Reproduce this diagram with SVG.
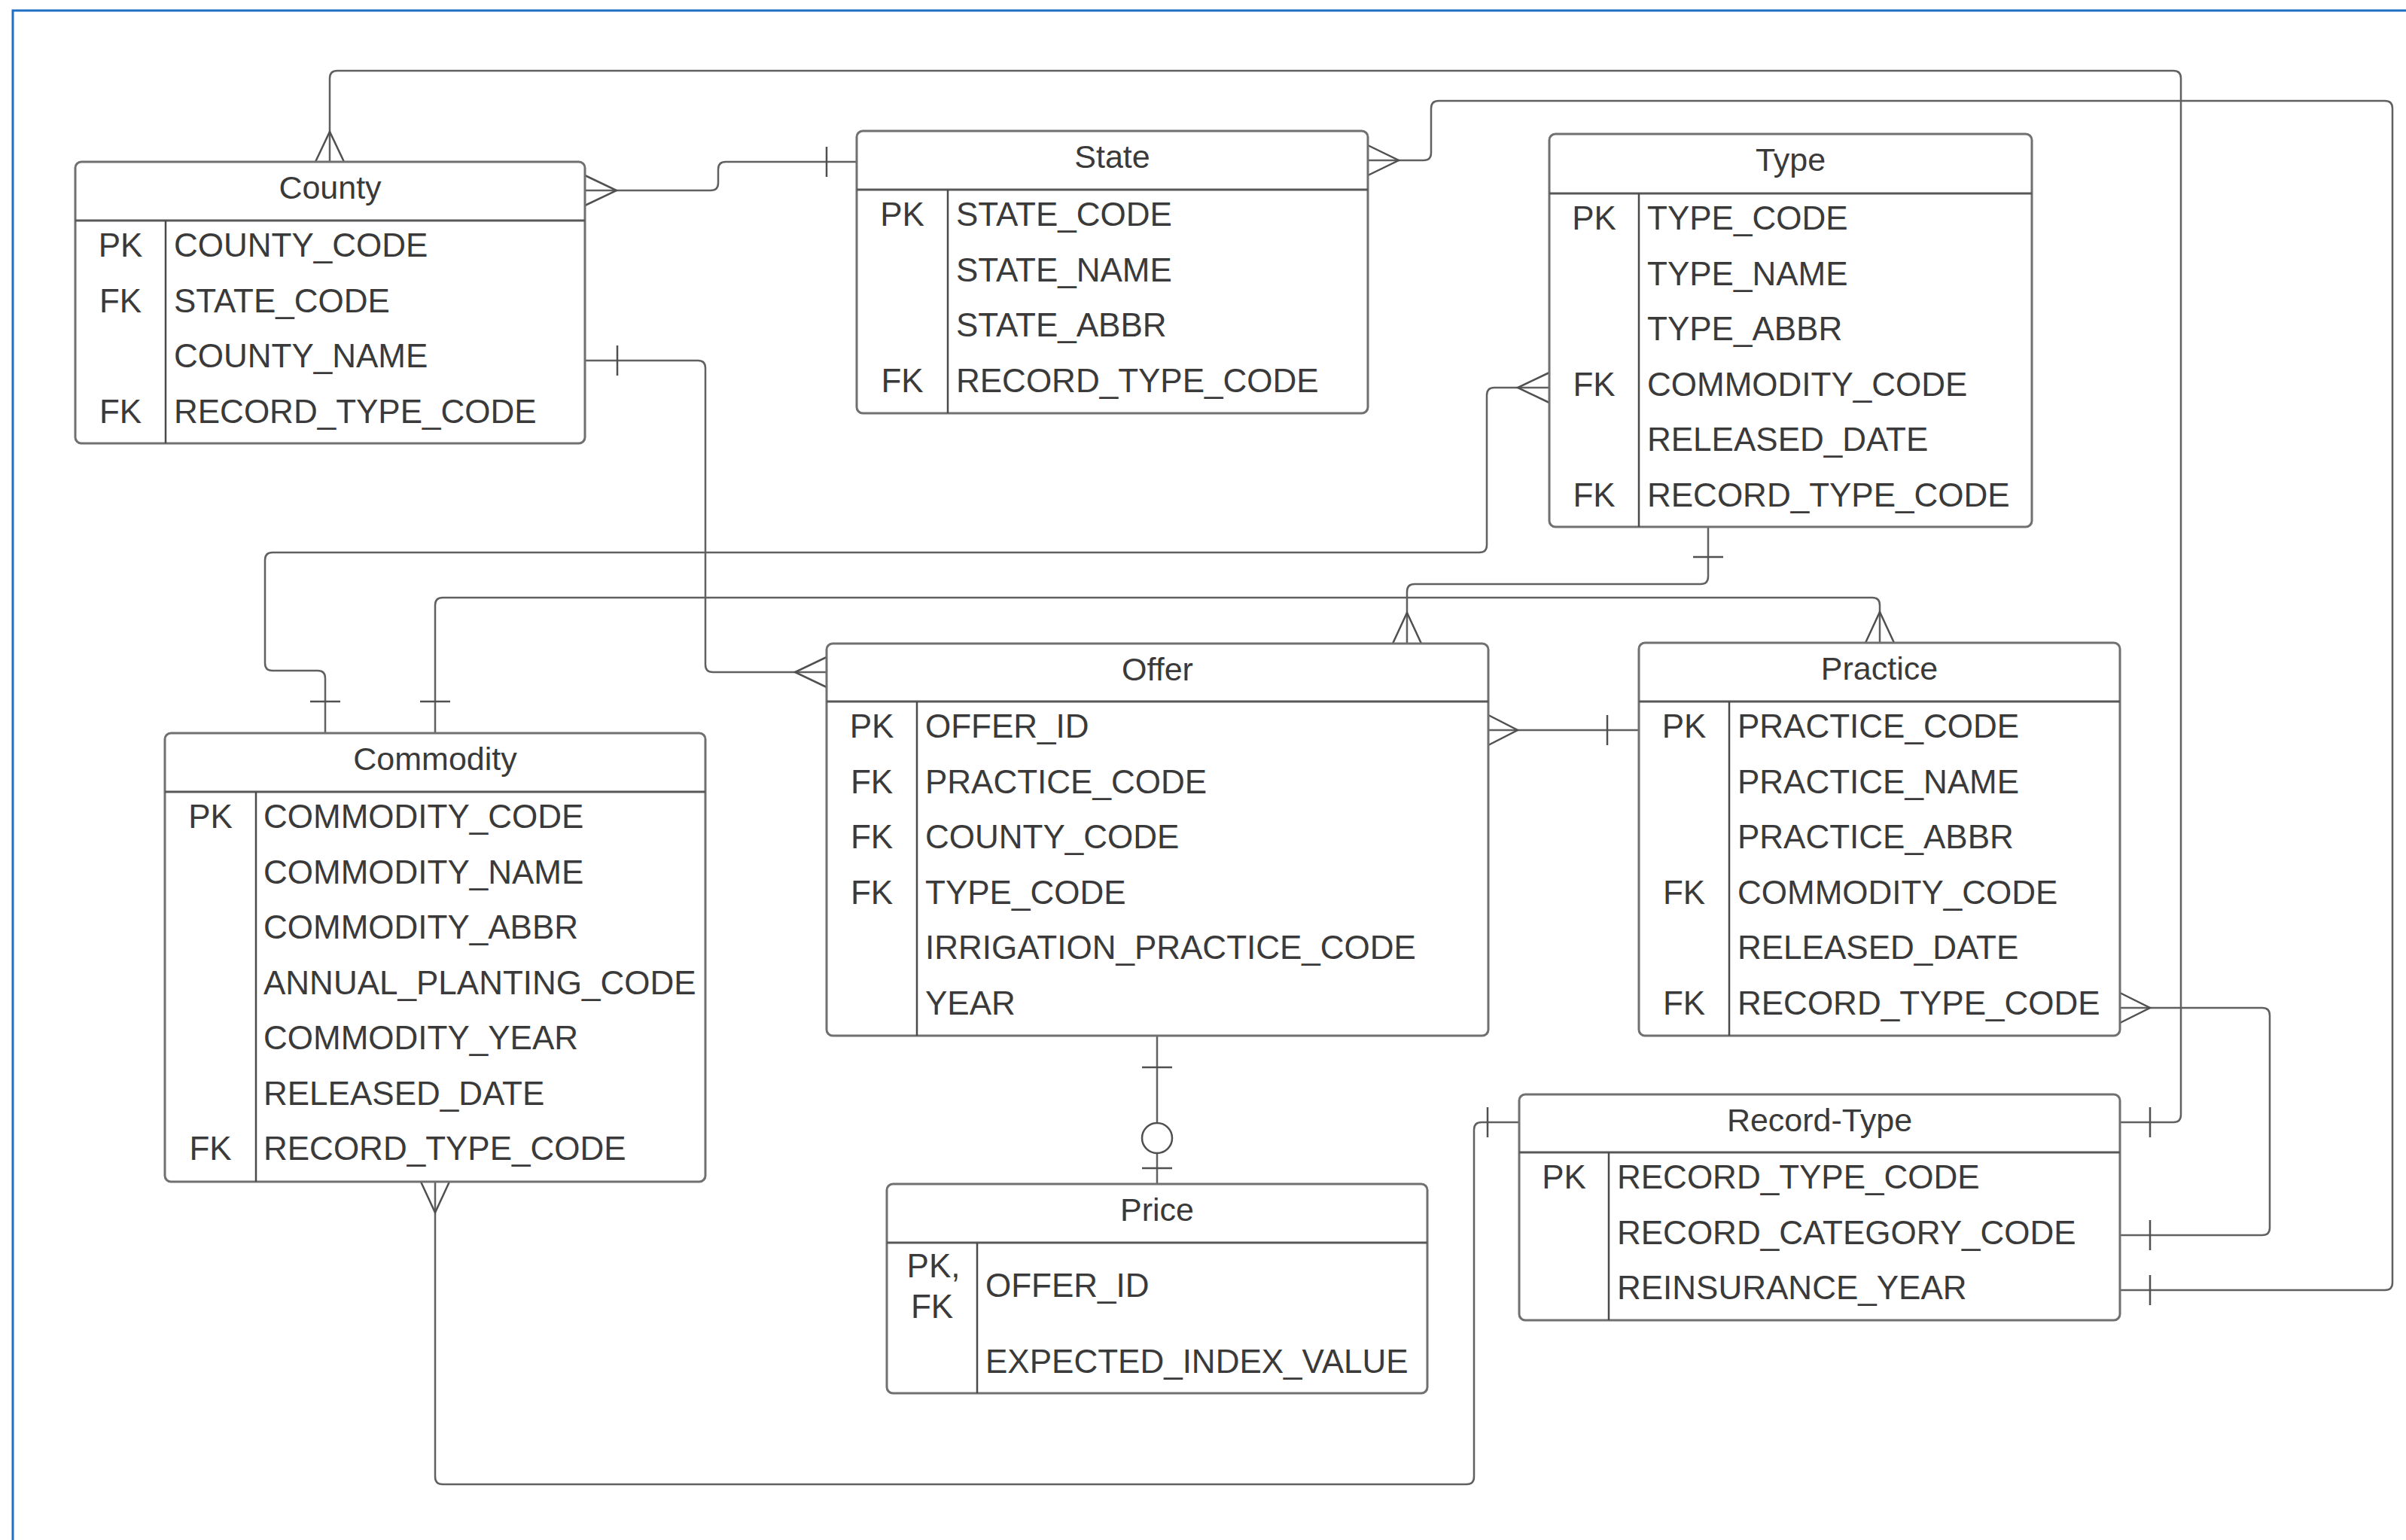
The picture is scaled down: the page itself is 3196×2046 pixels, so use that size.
<svg xmlns="http://www.w3.org/2000/svg" width="3196" height="2046" viewBox="0 0 3196 2046">
<style>
.bg{fill:#ffffff}
.frame{fill:none;stroke:#1f6fc5;stroke-width:3}
.box{fill:#ffffff;stroke:#707070;stroke-width:3}
.sep{stroke:#585858;stroke-width:3}
.div{stroke:#4a4a4a;stroke-width:2.5}
.t{font-family:"Liberation Sans",Arial,sans-serif;font-size:43px;fill:#3a3a3a;text-anchor:middle}
.k{font-family:"Liberation Sans",Arial,sans-serif;font-size:44px;fill:#3a3a3a;text-anchor:middle}
.f{font-family:"Liberation Sans",Arial,sans-serif;font-size:44px;fill:#3a3a3a}
.ln{fill:none;stroke:#606060;stroke-width:2.5;stroke-linejoin:round}
.end{fill:none;stroke:#505050;stroke-width:2.5}
.circ{fill:#ffffff;stroke:#505050;stroke-width:2.5}
</style>
<rect class="bg" x="0" y="0" width="3196" height="2046"/>
<path class="frame" d="M17,2046 V14 H3196"/>

<g id="connectors">
  <!-- County top (many) to Record-Type header right (one) -->
  <path class="ln" d="M438,215 V104 Q438,94 448,94 H2887 Q2897,94 2897,104 V1481 Q2897,1491 2887,1491 H2816"/>
  <path class="end" d="M419,215 L438,175 L457,215 M2856,1471 V1511"/>
  <!-- County header right (many) to State header left (one) -->
  <path class="ln" d="M777,253 H944 Q954,253 954,243 V225 Q954,215 964,215 H1138"/>
  <path class="end" d="M777,233 L819,253 L777,273 M1098,195 V235"/>
  <!-- County COUNTY_NAME (one) to Offer header left (many) -->
  <path class="ln" d="M777,479 H927 Q937,479 937,489 V883 Q937,893 947,893 H1098"/>
  <path class="end" d="M820,459 V499 M1098,873 L1056,893 L1098,913"/>
  <!-- State header right (many) to Record-Type REINSURANCE_YEAR (one) -->
  <path class="ln" d="M1817,213 H1891 Q1901,213 1901,203 V144 Q1901,134 1911,134 H3168 Q3178,134 3178,144 V1704 Q3178,1714 3168,1714 H2816"/>
  <path class="end" d="M1817,193 L1858,213 L1817,233 M2856,1694 V1734"/>
  <!-- Type COMMODITY_CODE (many) to Commodity top (one) -->
  <path class="ln" d="M2058,515 H1985 Q1975,515 1975,525 V724 Q1975,734 1965,734 H362 Q352,734 352,744 V881 Q352,891 362,891 H422 Q432,891 432,901 V974"/>
  <path class="end" d="M2058,495 L2016,515 L2058,535 M412,932 H452"/>
  <!-- Type bottom (one) to Offer top (many) -->
  <path class="ln" d="M2269,700 V766 Q2269,776 2259,776 H1879 Q1869,776 1869,786 V855"/>
  <path class="end" d="M2249,740 H2289 M1850,855 L1869,814 L1888,855"/>
  <!-- Commodity top (one) to Practice top (many) -->
  <path class="ln" d="M578,974 V804 Q578,794 588,794 H2487 Q2497,794 2497,804 V854"/>
  <path class="end" d="M558,932 H598 M2478,854 L2497,813 L2516,854"/>
  <!-- Offer OFFER_ID (many) to Practice PRACTICE_CODE (one) -->
  <path class="ln" d="M1977,970 H2177"/>
  <path class="end" d="M1977,950 L2016,970 L1977,990 M2135,950 V990"/>
  <!-- Offer bottom (one) to Price top (zero or one) -->
  <path class="ln" d="M1537,1376 V1573"/>
  <path class="end" d="M1517,1418 H1557 M1517,1552 H1557"/>
  <circle class="circ" cx="1537" cy="1512" r="20"/>
  <!-- Practice RECORD_TYPE_CODE (many) to Record-Type RECORD_CATEGORY_CODE (one) -->
  <path class="ln" d="M2816,1339 H3005 Q3015,1339 3015,1349 V1631 Q3015,1641 3005,1641 H2816"/>
  <path class="end" d="M2816,1319 L2856,1339 L2816,1359 M2856,1621 V1661"/>
  <!-- Commodity bottom (many) to Record-Type header left (one) -->
  <path class="ln" d="M578,1570 V1962 Q578,1972 588,1972 H1948 Q1958,1972 1958,1962 V1501 Q1958,1491 1968,1491 H2018"/>
  <path class="end" d="M559,1570 L578,1611 L597,1570 M1976,1471 V1511"/>
</g>

<g id="county">
  <rect class="box" x="100" y="215" width="677" height="374" rx="8"/>
  <line class="sep" x1="100" y1="293" x2="777" y2="293"/>
  <line class="div" x1="220" y1="293" x2="220" y2="589"/>
  <text class="t" x="438.5" y="264">County</text>
  <text class="k" x="160" y="341">PK</text><text class="f" x="231" y="341">COUNTY_CODE</text>
  <text class="k" x="160" y="414.5">FK</text><text class="f" x="231" y="414.5">STATE_CODE</text>
  <text class="f" x="231" y="488">COUNTY_NAME</text>
  <text class="k" x="160" y="561.5">FK</text><text class="f" x="231" y="561.5">RECORD_TYPE_CODE</text>
</g>

<g id="state">
  <rect class="box" x="1138" y="174" width="679" height="375" rx="8"/>
  <line class="sep" x1="1138" y1="252" x2="1817" y2="252"/>
  <line class="div" x1="1259" y1="252" x2="1259" y2="549"/>
  <text class="t" x="1477.5" y="223">State</text>
  <text class="k" x="1198.5" y="300">PK</text><text class="f" x="1270" y="300">STATE_CODE</text>
  <text class="f" x="1270" y="373.5">STATE_NAME</text>
  <text class="f" x="1270" y="447">STATE_ABBR</text>
  <text class="k" x="1198.5" y="520.5">FK</text><text class="f" x="1270" y="520.5">RECORD_TYPE_CODE</text>
</g>

<g id="type">
  <rect class="box" x="2058" y="178" width="641" height="522" rx="8"/>
  <line class="sep" x1="2058" y1="257" x2="2699" y2="257"/>
  <line class="div" x1="2177" y1="257" x2="2177" y2="700"/>
  <text class="t" x="2378.5" y="227">Type</text>
  <text class="k" x="2117.5" y="305">PK</text><text class="f" x="2188" y="305">TYPE_CODE</text>
  <text class="f" x="2188" y="378.5">TYPE_NAME</text>
  <text class="f" x="2188" y="452">TYPE_ABBR</text>
  <text class="k" x="2117.5" y="525.5">FK</text><text class="f" x="2188" y="525.5">COMMODITY_CODE</text>
  <text class="f" x="2188" y="599">RELEASED_DATE</text>
  <text class="k" x="2117.5" y="672.5">FK</text><text class="f" x="2188" y="672.5">RECORD_TYPE_CODE</text>
</g>

<g id="commodity">
  <rect class="box" x="219" y="974" width="718" height="596" rx="8"/>
  <line class="sep" x1="219" y1="1052" x2="937" y2="1052"/>
  <line class="div" x1="340" y1="1052" x2="340" y2="1570"/>
  <text class="t" x="578" y="1023">Commodity</text>
  <text class="k" x="279.5" y="1100">PK</text><text class="f" x="350" y="1100">COMMODITY_CODE</text>
  <text class="f" x="350" y="1173.5">COMMODITY_NAME</text>
  <text class="f" x="350" y="1247">COMMODITY_ABBR</text>
  <text class="f" x="350" y="1320.5">ANNUAL_PLANTING_CODE</text>
  <text class="f" x="350" y="1394">COMMODITY_YEAR</text>
  <text class="f" x="350" y="1467.5">RELEASED_DATE</text>
  <text class="k" x="279.5" y="1541">FK</text><text class="f" x="350" y="1541">RECORD_TYPE_CODE</text>
</g>

<g id="offer">
  <rect class="box" x="1098" y="855" width="879" height="521" rx="8"/>
  <line class="sep" x1="1098" y1="932" x2="1977" y2="932"/>
  <line class="div" x1="1218" y1="932" x2="1218" y2="1376"/>
  <text class="t" x="1537.5" y="904">Offer</text>
  <text class="k" x="1158" y="980">PK</text><text class="f" x="1229" y="980">OFFER_ID</text>
  <text class="k" x="1158" y="1053.5">FK</text><text class="f" x="1229" y="1053.5">PRACTICE_CODE</text>
  <text class="k" x="1158" y="1127">FK</text><text class="f" x="1229" y="1127">COUNTY_CODE</text>
  <text class="k" x="1158" y="1200.5">FK</text><text class="f" x="1229" y="1200.5">TYPE_CODE</text>
  <text class="f" x="1229" y="1274">IRRIGATION_PRACTICE_CODE</text>
  <text class="f" x="1229" y="1347.5">YEAR</text>
</g>

<g id="practice">
  <rect class="box" x="2177" y="854" width="639" height="522" rx="8"/>
  <line class="sep" x1="2177" y1="932" x2="2816" y2="932"/>
  <line class="div" x1="2297" y1="932" x2="2297" y2="1376"/>
  <text class="t" x="2496.5" y="903">Practice</text>
  <text class="k" x="2237" y="980">PK</text><text class="f" x="2308" y="980">PRACTICE_CODE</text>
  <text class="f" x="2308" y="1053.5">PRACTICE_NAME</text>
  <text class="f" x="2308" y="1127">PRACTICE_ABBR</text>
  <text class="k" x="2237" y="1200.5">FK</text><text class="f" x="2308" y="1200.5">COMMODITY_CODE</text>
  <text class="f" x="2308" y="1274">RELEASED_DATE</text>
  <text class="k" x="2237" y="1347.5">FK</text><text class="f" x="2308" y="1347.5">RECORD_TYPE_CODE</text>
</g>

<g id="record-type">
  <rect class="box" x="2018" y="1454" width="798" height="300" rx="8"/>
  <line class="sep" x1="2018" y1="1531" x2="2816" y2="1531"/>
  <line class="div" x1="2137" y1="1531" x2="2137" y2="1754"/>
  <text class="t" x="2417" y="1503">Record-Type</text>
  <text class="k" x="2077.5" y="1579">PK</text><text class="f" x="2148" y="1579">RECORD_TYPE_CODE</text>
  <text class="f" x="2148" y="1652.5">RECORD_CATEGORY_CODE</text>
  <text class="f" x="2148" y="1726">REINSURANCE_YEAR</text>
</g>

<g id="price">
  <rect class="box" x="1178" y="1573" width="718" height="278" rx="8"/>
  <line class="sep" x1="1178" y1="1651" x2="1896" y2="1651"/>
  <line class="div" x1="1298" y1="1651" x2="1298" y2="1851"/>
  <text class="t" x="1537" y="1622">Price</text>
  <text class="k" x="1240" y="1697">PK,</text>
  <text class="k" x="1238" y="1751">FK</text>
  <text class="f" x="1309" y="1723">OFFER_ID</text>
  <text class="f" x="1309" y="1824">EXPECTED_INDEX_VALUE</text>
</g>
</svg>
